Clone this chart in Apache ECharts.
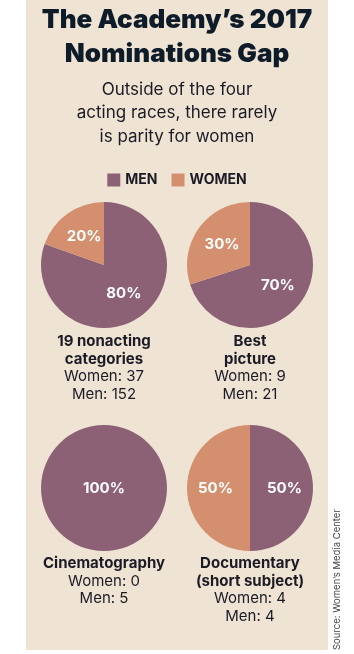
<!DOCTYPE html>
<html>
<head>
<meta charset="utf-8">
<script src="https://cdn.jsdelivr.net/npm/echarts@6/dist/echarts.min.js"></script>
<style>
html, body { margin: 0; padding: 0; background: #ffffff; }
#main { width: 354px; height: 654px; }
</style>
</head>
<body>
<div id="main"></div>
<script>
// nomination counts per category
const categories = ['19 nonacting\ncategories', 'Best\npicture', 'Cinematography', 'Documentary\n(short subject)'];
const women = [37, 9, 0, 4];
const men = [152, 21, 5, 4];
const legendNames = ['MEN', 'WOMEN'];

const MEN_COLOR = '#8c6175';
const WOMEN_COLOR = '#d4906e';
const INK = '#1b1b26';
const FONT = 'Inter, Roboto, sans-serif';

// pie centres, 2x2 grid
const centers = [[104, 265], [250, 265], [104, 488], [250, 488]];
const captionTop = [333, 333, 555, 555];

let series = categories.map((cat, i) => {
    let full = women[i] === 0 || men[i] === 0;
    return {
        type: 'pie',
        name: cat,
        center: centers[i],
        radius: 63,
        startAngle: 90,
        clockwise: true,
        percentPrecision: 0,
        silent: true,
        label: {
            show: true,
            position: full ? 'center' : 'inside',
            formatter: '{d}%',
            color: '#ffffff',
            fontFamily: FONT,
            fontWeight: 'bold',
            fontSize: 15
        },
        labelLine: { show: false },
        emphasis: { disabled: true },
        data: [
            { name: legendNames[0], value: men[i], label: { show: men[i] > 0 } },
            { name: legendNames[1], value: women[i], label: { show: women[i] > 0 } }
        ]
    };
});

// captions under each pie
let captions = categories.map((cat, i) => {
    let bold = cat.split('\n').map(s => '{b|' + s + '}').join('\n');
    return {
        type: 'text',
        x: centers[i][0],
        y: captionTop[i],
        style: {
            text: bold + '\n{r|Women: ' + women[i] + '}\n{r|Men: ' + men[i] + '}',
            align: 'center',
            verticalAlign: 'top',
            rich: {
                b: { fontFamily: FONT, fontWeight: 'bold', fontSize: 15, lineHeight: 17.5, fill: INK, align: 'center' },
                r: { fontFamily: FONT, fontSize: 15, lineHeight: 17.5, fill: INK, align: 'center' }
            }
        }
    };
});

let chart = echarts.init(document.getElementById('main'));
chart.setOption({
    animation: false,
    color: [MEN_COLOR, WOMEN_COLOR],
    title: [
        {
            text: 'The Academy\u2019s 2017\nNominations Gap',
            left: 'center',
            top: -2,
            textStyle: {
                fontFamily: FONT,
                fontWeight: 900,
                fontSize: 26,
                lineHeight: 34,
                color: '#0e1b29'
            }
        },
        {
            text: 'Outside of the four\nacting races, there rarely\nis parity for women',
            left: 'center',
            top: 73,
            textStyle: {
                fontFamily: FONT,
                fontWeight: 'normal',
                fontSize: 17,
                lineHeight: 23.5,
                color: INK
            }
        }
    ],
    legend: {
        data: legendNames,
        top: 168,
        left: 'center',
        icon: 'rect',
        itemWidth: 13,
        itemHeight: 13,
        itemGap: 14,
        selectedMode: false,
        textStyle: {
            fontFamily: FONT,
            fontWeight: 'bold',
            fontSize: 14,
            color: INK
        }
    },
    graphic: [
        {
            type: 'rect',
            z: -10,
            shape: { x: 26, y: 0, width: 302, height: 650 },
            style: { fill: '#efe3d3' }
        },
        ...captions,
        {
            type: 'text',
            x: 337,
            y: 650,
            rotation: Math.PI / 2,
            style: {
                text: 'Source: Women\u2019s Media Center',
                align: 'left',
                verticalAlign: 'middle',
                fontFamily: FONT,
                fontSize: 9.5,
                fill: '#444444'
            }
        }
    ],
    series: series
});
</script>
</body>
</html>
